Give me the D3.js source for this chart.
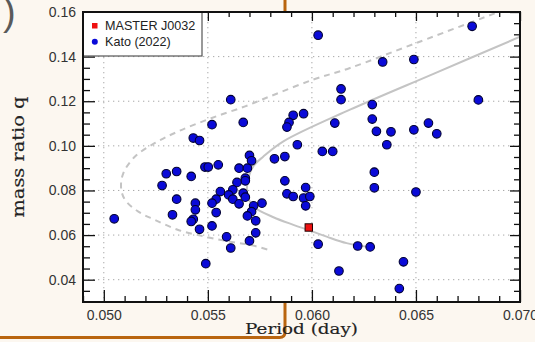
<!DOCTYPE html>
<html>
<head>
<meta charset="utf-8">
<script src="https://cdn.jsdelivr.net/npm/d3@7"></script>
<style>
  html, body { margin: 0; padding: 0; background: #fcf7f0; }
  svg { display: block; }
</style>
</head>
<body>
<svg id="chart" width="535" height="342"></svg>
<script>
// Kato (2022) sample: orbital period (day) and mass ratio q
const katoPeriod = [
  0.0603, 0.0614, 0.0614, 0.0561, 0.0591, 0.0596, 0.0677, 0.0634, 0.0649, 0.0629,
  0.0680, 0.0629, 0.0631, 0.0638, 0.0636, 0.0649, 0.0656, 0.0660, 0.0630, 0.0630,
  0.0650, 0.0589, 0.0588, 0.0552, 0.0567, 0.0611, 0.0543, 0.0546, 0.0593, 0.0605,
  0.0610, 0.0570, 0.0571, 0.0582, 0.0587, 0.0555, 0.05486, 0.05502, 0.0535, 0.0542,
  0.0565, 0.0569, 0.0568, 0.0568, 0.0564, 0.0587, 0.0597, 0.0556, 0.0562, 0.0567,
  0.0560, 0.0562, 0.0568, 0.0554, 0.0588, 0.0591, 0.0596, 0.0599, 0.0597, 0.0535,
  0.0544, 0.0552, 0.0565, 0.0576, 0.0572, 0.0544, 0.0554, 0.0571, 0.0533, 0.0543,
  0.0569, 0.0573, 0.0552, 0.0546, 0.0573, 0.0559, 0.0561, 0.0570, 0.0603, 0.0549,
  0.0613, 0.0622, 0.0628, 0.0644, 0.0642, 0.0505, 0.0530, 0.0528, 0.0542
];
const katoRatio = [
  0.1496, 0.1255, 0.1207, 0.1207, 0.1137, 0.1144, 0.1536, 0.1376, 0.1387, 0.1185,
  0.1206, 0.1120, 0.1065, 0.1063, 0.1005, 0.1072, 0.1102, 0.1054, 0.0882, 0.0812,
  0.0793, 0.1105, 0.1084, 0.1095, 0.1105, 0.1102, 0.1035, 0.1024, 0.1005, 0.0975,
  0.0975, 0.0957, 0.0933, 0.0942, 0.0952, 0.0915, 0.0905, 0.0905, 0.0885, 0.0863,
  0.0900, 0.0900, 0.0855, 0.0843, 0.0836, 0.0843, 0.0813, 0.0795, 0.0803, 0.0788,
  0.0780, 0.0761, 0.0770, 0.0761, 0.0785, 0.0773, 0.0766, 0.0773, 0.0731, 0.0761,
  0.0743, 0.0743, 0.0740, 0.0743, 0.0731, 0.0713, 0.0701, 0.0705, 0.0691, 0.0671,
  0.0686, 0.0664, 0.0641, 0.0626, 0.0610, 0.0592, 0.0542, 0.0574, 0.0559, 0.0472,
  0.0439, 0.0551, 0.0547, 0.0480, 0.0360, 0.0673, 0.0875, 0.0822, 0.0661
];

// MASTER J0032
const masterPeriod = [0.05985];
const masterRatio = [0.0634];

// Evolutionary tracks (solid and dashed)
const solidTrackPeriod = [0.0700, 0.06587, 0.06183, 0.05863, 0.05767, 0.05718, 0.05693,
  0.05688, 0.05698, 0.05718, 0.05815, 0.05911, 0.05991, 0.06071, 0.06167, 0.06279];
const solidTrackRatio = [0.1489, 0.1324, 0.1162, 0.1020, 0.0952, 0.0908, 0.0848,
  0.0794, 0.0758, 0.0728, 0.0680, 0.0646, 0.0620, 0.0593, 0.0564, 0.0546];

const dashedTrackPeriod = [0.06928, 0.06504, 0.06183, 0.06007, 0.05799, 0.05679, 0.05519, 0.05358,
  0.05246, 0.05150, 0.05094, 0.05083, 0.05102, 0.05166, 0.05246, 0.05358, 0.05486, 0.05597,
  0.05703, 0.05799];
const dashedTrackRatio = [0.1611, 0.1462, 0.1349, 0.1297, 0.1222, 0.1177, 0.1125, 0.1065,
  0.1013, 0.0952, 0.0878, 0.0811, 0.0758, 0.0705, 0.0668, 0.0623, 0.0593, 0.0572,
  0.0556, 0.0532];

// Axis ticks
const xMajorTicks = [0.050, 0.055, 0.060, 0.065, 0.070];
const xMinorTicks = [0.049, 0.051, 0.052, 0.053, 0.054, 0.056, 0.057, 0.058, 0.059,
  0.061, 0.062, 0.063, 0.064, 0.066, 0.067, 0.068, 0.069];
const yMajorTicks = [0.04, 0.06, 0.08, 0.10, 0.12, 0.14, 0.16];
const yMinorTicks = [0.035, 0.045, 0.05, 0.055, 0.065, 0.07, 0.075, 0.085, 0.09, 0.095,
  0.105, 0.11, 0.115, 0.125, 0.13, 0.135, 0.145, 0.15, 0.155];

const legendItems = ["MASTER J0032", "Kato (2022)"];

const svg = d3.select("#chart");
const W = 535, H = 342;
const plot = { left: 83, right: 520, top: 12, bottom: 302 };

const x = d3.scaleLinear().domain([0.049, 0.070]).range([plot.left, plot.right]);
const y = d3.scaleLinear().domain([0.03, 0.16]).range([plot.bottom, plot.top]);

// Page background
svg.append("rect").attr("width", W).attr("height", H).attr("fill", "#fcf7f0");

// Orange frame lines of the surrounding panel
const orange = "#b9650f";
svg.append("path")
  .attr("d", "M285,0 L285,12")
  .attr("stroke", orange).attr("stroke-width", 3).attr("fill", "none");
svg.append("path")
  .attr("d", "M285,296 L285,332 Q285,337.5 279.5,337.5 L-5,337.5")
  .attr("stroke", orange).attr("stroke-width", 3).attr("fill", "none");

// Panel label fragment at the top-left corner
svg.append("text")
  .attr("x", 3).attr("y", 25)
  .attr("font-family", "Liberation Sans, Arial, sans-serif")
  .attr("font-size", 38)
  .attr("fill", "#5a5a5a")
  .text(")");

// Plot area
svg.append("rect")
  .attr("x", plot.left).attr("y", plot.top)
  .attr("width", plot.right - plot.left).attr("height", plot.bottom - plot.top)
  .attr("fill", "#ffffff");

svg.append("clipPath").attr("id", "plotClip")
  .append("rect")
  .attr("x", plot.left).attr("y", plot.top)
  .attr("width", plot.right - plot.left).attr("height", plot.bottom - plot.top);

// Dotted grid at major ticks
const grid = svg.append("g").attr("stroke", "#a8a8a8").attr("stroke-width", 1)
  .attr("stroke-dasharray", "1.3,3.7");
grid.selectAll("line.gx").data(xMajorTicks.filter(d => d < 0.0695))
  .join("line").attr("class", "gx")
  .attr("x1", d => x(d)).attr("x2", d => x(d))
  .attr("y1", plot.top).attr("y2", plot.bottom);
grid.selectAll("line.gy").data(yMajorTicks.filter(d => d < 0.159))
  .join("line").attr("class", "gy")
  .attr("x1", plot.left).attr("x2", plot.right)
  .attr("y1", d => y(d)).attr("y2", d => y(d));

// Tracks
const trackLine = d3.line()
  .x(d => x(d[0])).y(d => y(d[1]))
  .curve(d3.curveCatmullRom.alpha(0.5));
const tracks = svg.append("g").attr("clip-path", "url(#plotClip)");
tracks.append("path")
  .attr("d", trackLine(d3.zip(dashedTrackPeriod, dashedTrackRatio)))
  .attr("fill", "none").attr("stroke", "#c4c4c4").attr("stroke-width", 2)
  .attr("stroke-dasharray", "6,5");
tracks.append("path")
  .attr("d", trackLine(d3.zip(solidTrackPeriod, solidTrackRatio)))
  .attr("fill", "none").attr("stroke", "#c4c4c4").attr("stroke-width", 2);

// Kato (2022) points
svg.append("g").selectAll("circle")
  .data(d3.zip(katoPeriod, katoRatio))
  .join("circle")
  .attr("cx", d => x(d[0])).attr("cy", d => y(d[1]))
  .attr("r", 4.3)
  .attr("fill", "#0a0ad8")
  .attr("stroke", "#000033").attr("stroke-width", 1.1);

// MASTER J0032
const sq = 7.4;
svg.append("g").selectAll("rect")
  .data(d3.zip(masterPeriod, masterRatio))
  .join("rect")
  .attr("x", d => x(d[0]) - sq / 2).attr("y", d => y(d[1]) - sq / 2)
  .attr("width", sq).attr("height", sq)
  .attr("fill", "#ee1111").attr("stroke", "#220000").attr("stroke-width", 1);

// Axes: inward ticks on all four sides
const tickFont = "Liberation Sans, Arial, Helvetica, sans-serif";
function styleAxis(g) {
  g.select(".domain").remove();
  g.selectAll(".tick line").attr("stroke", "#111").attr("stroke-width", 1.3);
  g.selectAll(".tick text").attr("fill", "#333").attr("font-size", 14)
    .attr("font-family", tickFont);
}
svg.append("g").attr("transform", `translate(0,${plot.bottom})`)
  .call(d3.axisBottom(x).tickValues(xMajorTicks).tickSize(-12).tickPadding(8)
    .tickFormat(d3.format(".3f")))
  .call(styleAxis);
svg.append("g").attr("transform", `translate(0,${plot.bottom})`)
  .call(d3.axisBottom(x).tickValues(xMinorTicks).tickSize(-6).tickFormat(""))
  .call(styleAxis);
svg.append("g").attr("transform", `translate(0,${plot.top})`)
  .call(d3.axisTop(x).tickValues(xMajorTicks).tickSize(-9).tickFormat(""))
  .call(styleAxis);
svg.append("g").attr("transform", `translate(0,${plot.top})`)
  .call(d3.axisTop(x).tickValues(xMinorTicks).tickSize(-5).tickFormat(""))
  .call(styleAxis);
svg.append("g").attr("transform", `translate(${plot.left},0)`)
  .call(d3.axisLeft(y).tickValues(yMajorTicks).tickSize(-12).tickPadding(7)
    .tickFormat(d3.format(".2f")))
  .call(styleAxis);
svg.append("g").attr("transform", `translate(${plot.left},0)`)
  .call(d3.axisLeft(y).tickValues(yMinorTicks).tickSize(-7).tickFormat(""))
  .call(styleAxis);
svg.append("g").attr("transform", `translate(${plot.right},0)`)
  .call(d3.axisRight(y).tickValues(yMajorTicks).tickSize(-10).tickFormat(""))
  .call(styleAxis);
svg.append("g").attr("transform", `translate(${plot.right},0)`)
  .call(d3.axisRight(y).tickValues(yMinorTicks).tickSize(-6).tickFormat(""))
  .call(styleAxis);

// Legend box
const legend = svg.append("g");
legend.append("rect")
  .attr("x", plot.left).attr("y", plot.top).attr("width", 119).attr("height", 44)
  .attr("fill", "#ffffff").attr("stroke", "#555").attr("stroke-width", 1.2);
legend.append("rect")
  .attr("x", 92).attr("y", 23).attr("width", 5.5).attr("height", 5.5)
  .attr("fill", "#ee1111");
legend.append("circle")
  .attr("cx", 94.8).attr("cy", 41.7).attr("r", 3)
  .attr("fill", "#0a0ad8");
legend.selectAll("text").data(legendItems).join("text")
  .attr("x", 105).attr("y", (d, i) => 25.8 + i * 16)
  .attr("dy", "0.35em")
  .attr("font-family", tickFont).attr("font-size", 12.6).attr("fill", "#222")
  .text(d => d);

// Plot frame
svg.append("rect")
  .attr("x", plot.left).attr("y", plot.top)
  .attr("width", plot.right - plot.left).attr("height", plot.bottom - plot.top)
  .attr("fill", "none").attr("stroke", "#111").attr("stroke-width", 2);

// Axis titles
const titleFont = "DejaVu Serif, Liberation Serif, serif";
svg.append("text")
  .attr("x", (plot.left + plot.right) / 2).attr("y", 334)
  .attr("text-anchor", "middle")
  .attr("font-family", titleFont).attr("font-size", 15.5)
  .attr("stroke", "#222").attr("stroke-width", 0.15)
  .attr("textLength", 113).attr("lengthAdjust", "spacingAndGlyphs")
  .attr("fill", "#222")
  .text("Period (day)");
svg.append("text")
  .attr("transform", `translate(24,${(plot.top + plot.bottom) / 2}) rotate(-90)`)
  .attr("text-anchor", "middle")
  .attr("font-family", titleFont).attr("font-size", 16.5)
  .attr("stroke", "#222").attr("stroke-width", 0.15)
  .attr("textLength", 121).attr("lengthAdjust", "spacingAndGlyphs")
  .attr("fill", "#222")
  .text("mass ratio q");
</script>
</body>
</html>
